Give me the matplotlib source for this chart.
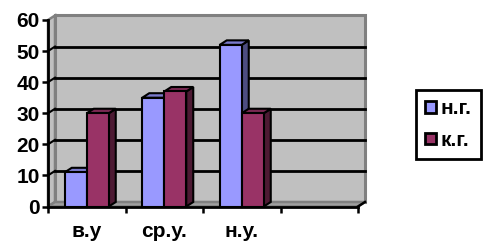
import numpy as np
import matplotlib.pyplot as plt
from matplotlib.patches import Polygon, Patch

# Data
categories = ['в.у', 'ср.у.', 'н.у.', '']
series_names = ['н.г.', 'к.г.']
ng_values = [11, 35, 52]
kg_values = [30, 37, 30]
y_ticks = [0, 10, 20, 30, 40, 50, 60]

# Colours
face_colors = ['#9999ff', '#993366']
side_colors = ['#4d4d80', '#4d1a33']
top_colors = ['#7a7acc', '#7a2952']
wall_color = '#c0c0c0'
floor_color = '#a0a0a0'
edge_gray = '#808080'

W, H = 488, 241
fig = plt.figure(figsize=(W / 100, H / 100), dpi=100)
ax = fig.add_axes([48 / W, 34.5 / H, 310 / W, 186.5 / H])
ax.set_xlim(0, len(categories))
ax.set_ylim(0, 60)

# depth offset in data units (about 7 px right, 4.5 px up)
n = len(categories)
dx = 7 * n / 310
dy = 4.5 * 60 / 186.5

ax.patch.set_visible(False)

# Back wall
ax.add_patch(Polygon([(dx, dy), (n + dx, dy), (n + dx, 60 + dy), (dx, 60 + dy)],
                     closed=True, facecolor=wall_color, edgecolor=edge_gray,
                     lw=2.2, zorder=0, clip_on=False))
# Left wall
ax.add_patch(Polygon([(0, 0), (dx, dy), (dx, 60 + dy), (0, 60)],
                     closed=True, facecolor=wall_color, edgecolor=edge_gray,
                     lw=1.8, zorder=0, clip_on=False))
# Floor
ax.add_patch(Polygon([(0, 0), (n, 0), (n + dx, dy), (dx, dy)],
                     closed=True, facecolor=floor_color, edgecolor=edge_gray,
                     lw=1.8, zorder=1, clip_on=False))

# Gridlines on back wall and left wall
for v in y_ticks[1:-1]:
    ax.plot([dx, n + dx], [v + dy, v + dy], color='black', lw=2, zorder=1,
            clip_on=False)
    ax.plot([0, dx], [v, v + dy], color='black', lw=1.5, zorder=1,
            clip_on=False)
ax.plot([n, n + dx], [0, dy], color='black', lw=1.8, zorder=2, clip_on=False)

# Bars
bar_w = 22 / 310 * n
x = np.arange(len(ng_values)) + 0.5
for k, vals in enumerate([ng_values, kg_values]):
    left = x - bar_w + k * bar_w
    z = 3 + k
    ax.bar(left, vals, width=bar_w, align='edge', color=face_colors[k],
           edgecolor='black', lw=1.5, zorder=z + 0.1, clip_on=False)
    for x0, h in zip(left, vals):
        ax.add_patch(Polygon([(x0 + bar_w, 0), (x0 + bar_w + dx, dy),
                              (x0 + bar_w + dx, h + dy), (x0 + bar_w, h)],
                             closed=True, facecolor=side_colors[k],
                             edgecolor='black', lw=1.5, zorder=z, clip_on=False))
        ax.add_patch(Polygon([(x0, h), (x0 + dx, h + dy), (x0 + bar_w + dx, h + dy),
                              (x0 + bar_w, h)],
                             closed=True, facecolor=top_colors[k],
                             edgecolor='black', lw=1.5, zorder=z, clip_on=False))

# Axes styling
for s in ['top', 'right']:
    ax.spines[s].set_visible(False)
for s in ['left', 'bottom']:
    ax.spines[s].set_linewidth(2)
    ax.spines[s].set_zorder(6)

font = dict(family='Liberation Sans', weight='bold', size=15)
ax.set_yticks(y_ticks)
ax.set_yticklabels([str(t) for t in y_ticks], **font)
ax.tick_params(axis='y', direction='out', length=4, width=1.8, pad=2)

ax.set_xticks(np.arange(n + 1))
ax.set_xticklabels([])
ax.tick_params(axis='x', which='major', direction='out', length=4, width=1.8)
ax.set_xticks(np.arange(n) + 0.5, minor=True)
ax.set_xticklabels(categories, minor=True, **font)
ax.tick_params(axis='x', which='minor', length=0, pad=11)

# Legend
handles = [Patch(facecolor=c, edgecolor='black', lw=2) for c in face_colors]
leg = fig.legend(handles, series_names, loc='upper left',
                 bbox_to_anchor=(416 / W, 1 - 90 / H),
                 prop=dict(family='Liberation Sans', weight='bold', size=15),
                 frameon=True, fancybox=False, framealpha=1,
                 edgecolor='black', handlelength=0.5, handleheight=0.5,
                 handletextpad=0.25, borderpad=0.45, labelspacing=0.6,
                 borderaxespad=0)
leg.get_frame().set_linewidth(2)

fig.savefig('out.png', dpi=100)
